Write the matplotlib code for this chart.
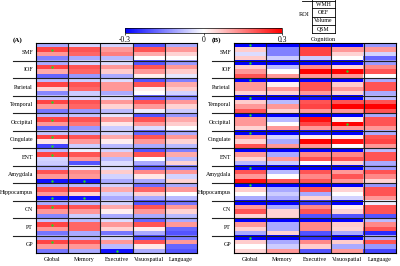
import numpy as np
import matplotlib
matplotlib.use('Agg')
import matplotlib.pyplot as plt
from matplotlib.transforms import blended_transform_factory

plt.rcParams['font.family'] = 'serif'
plt.rcParams['font.serif'] = ['Liberation Serif', 'DejaVu Serif']
plt.rcParams['axes.unicode_minus'] = False

rois = ['SMF', 'IOF', 'Parietal', 'Temporal', 'Occipital', 'Cingulate', 'ENT',
        'Amygdala', 'Hippocampus', 'CN', 'PT', 'GP']
cognition = ['Global', 'Memory', 'Executive', 'Visuospatial', 'Language']
measures = ['WMH', 'OEF', 'Volume', 'QSM']

# panel A, one row per ROI, columns = cognition
a_wmh = [[-0.10, -0.05, -0.05, -0.20, -0.10],
         [-0.10, -0.05, -0.04, -0.20, -0.12],
         [-0.08, -0.06, -0.04, -0.20, -0.15],
         [-0.07, -0.05, -0.04, -0.18, -0.14],
         [-0.08, -0.07, -0.03, -0.20, -0.12],
         [-0.07, -0.08, -0.05, -0.18, -0.10],
         [-0.08, -0.02, -0.05, -0.20, -0.15],
         [-0.09, -0.03, -0.04, -0.18, -0.15],
         [-0.10, -0.08, -0.05, -0.17, -0.10],
         [-0.10, -0.08, -0.05, -0.20, -0.16],
         [-0.07, -0.08, -0.04, -0.18, -0.10],
         [-0.10, -0.09, -0.05, -0.20, -0.15]]
a_oef = [[0.22, 0.20, 0.12, 0.20, 0.12],
         [0.22, 0.20, 0.12, 0.20, 0.12],
         [0.22, 0.20, 0.12, 0.20, 0.10],
         [0.22, 0.20, 0.12, 0.20, 0.12],
         [0.22, 0.20, 0.12, 0.20, 0.10],
         [0.22, 0.20, 0.10, 0.20, 0.12],
         [0.22, 0.20, 0.10, 0.20, 0.10],
         [0.20, 0.14, 0.06, 0.14, 0.12],
         [0.20, 0.20, 0.10, 0.18, 0.12],
         [0.22, 0.20, 0.10, 0.20, 0.12],
         [0.22, 0.18, 0.12, 0.20, 0.12],
         [0.22, 0.20, 0.12, 0.20, 0.12]]
a_vol = [[0.12, 0.18, 0.15, 0.10, 0.05],
         [0.10, 0.18, 0.06, 0.12, 0.06],
         [0.05, 0.18, 0.12, 0.02, 0.06],
         [0.12, 0.18, 0.05, 0.12, 0.05],
         [0.12, 0.16, 0.03, 0.12, 0.06],
         [0.03, 0.12, 0.02, 0.12, 0.05],
         [-0.05, 0.12, -0.08, 0.00, -0.08],
         [0.12, 0.12, -0.05, 0.03, -0.05],
         [0.12, 0.05, -0.05, 0.05, 0.00],
         [0.12, 0.12, 0.02, 0.12, 0.05],
         [0.12, 0.18, 0.05, 0.02, -0.18],
         [0.12, 0.12, -0.08, 0.03, -0.18]]
a_qsm = [[-0.15, -0.10, -0.08, 0.00, 0.00],
         [-0.18, -0.12, -0.10, 0.02, -0.03],
         [-0.14, -0.06, -0.10, 0.00, -0.05],
         [-0.16, -0.12, -0.08, -0.02, -0.06],
         [-0.18, -0.12, -0.06, -0.04, 0.00],
         [-0.22, -0.06, -0.08, -0.10, -0.08],
         [-0.06, -0.20, -0.04, -0.10, 0.05],
         [-0.28, -0.28, -0.10, -0.10, 0.05],
         [-0.28, -0.28, -0.10, -0.10, -0.08],
         [-0.14, -0.06, -0.10, -0.10, -0.08],
         [-0.16, -0.10, -0.16, -0.10, -0.20],
         [-0.16, -0.10, -0.28, -0.10, -0.20]]

# panel B
b_wmh = [[-0.30, -0.30, -0.30, -0.30, -0.12],
         [-0.30, -0.30, -0.30, -0.30, -0.12],
         [-0.30, -0.30, -0.30, -0.30, -0.10],
         [-0.30, -0.30, -0.28, -0.30, -0.08],
         [-0.30, -0.30, -0.30, -0.30, -0.10],
         [-0.30, -0.30, -0.28, -0.30, -0.10],
         [-0.30, -0.30, -0.30, -0.30, -0.08],
         [-0.30, -0.30, -0.30, -0.30, -0.12],
         [-0.30, -0.30, -0.30, -0.30, -0.12],
         [-0.30, -0.30, -0.24, -0.30, -0.02],
         [-0.30, -0.30, -0.30, -0.30, -0.08],
         [-0.30, -0.30, -0.24, -0.30, -0.10]]
b_oef = [[0.06, -0.15, 0.22, 0.12, 0.12],
         [0.06, -0.08, 0.14, 0.05, 0.14],
         [0.12, 0.02, 0.20, 0.06, 0.20],
         [0.06, -0.08, 0.20, 0.20, 0.20],
         [0.12, -0.08, 0.28, 0.02, 0.20],
         [0.12, -0.05, 0.02, 0.02, 0.20],
         [0.12, -0.10, 0.14, 0.14, 0.20],
         [0.20, -0.08, 0.20, 0.12, 0.20],
         [0.06, -0.10, 0.20, 0.05, 0.20],
         [0.12, -0.10, 0.14, 0.02, 0.20],
         [0.12, -0.10, 0.14, 0.06, 0.14],
         [0.06, -0.10, 0.14, 0.06, 0.20]]
b_vol = [[-0.04, -0.15, 0.22, 0.05, -0.05],
         [0.12, 0.00, 0.30, 0.30, 0.20],
         [0.12, 0.12, 0.20, 0.12, 0.20],
         [0.12, 0.12, 0.22, 0.30, 0.30],
         [0.12, 0.00, 0.22, 0.30, 0.20],
         [0.05, -0.10, 0.30, 0.28, 0.22],
         [0.05, 0.12, 0.20, 0.20, 0.20],
         [0.12, 0.00, 0.14, 0.20, 0.14],
         [0.00, -0.06, -0.10, 0.00, 0.20],
         [0.20, 0.05, 0.20, 0.05, 0.20],
         [0.05, -0.10, 0.14, 0.05, 0.20],
         [0.00, -0.06, 0.06, -0.10, -0.12]]
b_qsm = [[0.06, -0.06, -0.06, 0.00, -0.18],
         [0.20, 0.12, 0.12, 0.12, 0.00],
         [0.05, 0.05, 0.12, 0.05, -0.10],
         [0.20, 0.05, 0.12, 0.12, 0.20],
         [0.05, 0.12, 0.12, 0.12, 0.12],
         [0.20, 0.12, 0.12, 0.00, 0.12],
         [-0.08, -0.06, 0.00, 0.05, -0.10],
         [0.28, 0.20, 0.20, 0.12, 0.05],
         [-0.10, -0.10, 0.05, -0.05, 0.12],
         [0.05, 0.05, -0.20, -0.20, -0.20],
         [-0.10, 0.05, -0.20, -0.10, -0.25],
         [0.05, 0.12, -0.20, 0.12, -0.22]]

# significant cells: (roi index, measure index, cognition index)
a_sig = [(0, 1, 0), (1, 1, 0), (3, 1, 0), (4, 1, 0), (5, 1, 0), (6, 1, 0),
         (9, 1, 0), (10, 1, 0), (11, 1, 0), (5, 3, 0), (7, 3, 0), (8, 3, 0),
         (7, 3, 1), (8, 3, 1), (11, 3, 2)]
b_sig = [(0, 0, 0), (1, 0, 0), (2, 0, 0), (3, 0, 0), (4, 0, 0), (5, 0, 0),
         (7, 0, 0), (8, 0, 0), (11, 0, 0), (1, 2, 3), (4, 2, 3)]


def build(wmh, oef, vol, qsm):
    arr = np.stack([wmh, oef, vol, qsm], axis=1)  # roi, measure, cog
    return arr.reshape(-1, len(cognition))


W, H = 400, 266
fig = plt.figure(figsize=(W / 100, H / 100), dpi=100)

def draw_panel(rect, data, sig, label, ext):
    ax = fig.add_axes(rect)
    im = ax.imshow(data, cmap='bwr', vmin=-0.3, vmax=0.3, aspect='auto',
                   interpolation='nearest')
    nr = len(measures)
    for k in range(1, len(rois)):
        y = k * nr - 0.5
        tr = blended_transform_factory(ax.transAxes, ax.transData)
        ax.plot([ext, 1], [y, y], color='#222222', lw=0.8, transform=tr,
                clip_on=False)
    for c in range(1, len(cognition)):
        ax.axvline(c - 0.5, color='#222222', lw=0.8)
    for r, m, c in sig:
        ax.scatter(c, r * nr + m, s=3, color='#22dd22', zorder=5, lw=0)
    ax.set_yticks([k * nr + 1.5 for k in range(len(rois))])
    ax.set_yticklabels(rois, fontsize=4.3)
    ax.set_xticks(range(len(cognition)))
    ax.set_xticklabels(cognition, fontsize=4.3)
    ax.tick_params(length=0, pad=2.2)
    ax.tick_params(axis='x', pad=3)
    for s in ax.spines.values():
        s.set_linewidth(0.8)
    ax.set_ylim(len(rois) * nr - 0.5, -0.5)
    fig.text(rect[0] + ext * rect[2], 1 - 40 / H, label, fontsize=5,
             fontweight='bold', va='center', ha='left')
    return im

im = draw_panel([36 / W, 13 / H, 161 / W, 210 / H],
                build(a_wmh, a_oef, a_vol, a_qsm), a_sig, '(A)', -0.143)
draw_panel([234 / W, 13 / H, 162 / W, 210 / H],
           build(b_wmh, b_oef, b_vol, b_qsm), b_sig, '(B)', -0.136)

cax = fig.add_axes([125 / W, 233 / H, 157 / W, 5 / H])
cb = fig.colorbar(im, cax=cax, orientation='horizontal', ticks=[-0.3, 0, 0.3])
cb.ax.set_xticklabels(['-0.3', '0', '0.3'])
cb.ax.tick_params(labelsize=5.5, length=1.5, width=0.5, pad=0.5)
cb.outline.set_linewidth(0.5)

# ROI / cognition key in pixel coordinates
key = fig.add_axes([0, 0, 1, 1])
key.set_xlim(0, W)
key.set_ylim(H, 0)
key.axis('off')
bx0, bx1 = 312, 335
lines_y = [0.5, 8.3, 16.5, 25, 33]
key.plot([302, bx0], [0.5, 0.5], color='black', lw=0.6)
key.plot([bx0, bx0], [0, 33], color='black', lw=0.6)
key.plot([bx1, bx1], [0, 33], color='black', lw=0.6)
for y in lines_y:
    key.plot([bx0, bx1], [y, y], color='black', lw=0.6)
for i, m in enumerate(measures):
    key.text((bx0 + bx1) / 2, (lines_y[i] + lines_y[i + 1]) / 2, m,
             fontsize=4.2, ha='center', va='center')
key.text(304, 15, 'ROI', fontsize=4.5, ha='center', va='center')
key.text((bx0 + bx1) / 2, 39, 'Cognition', fontsize=4.5, ha='center',
         va='center')

fig.savefig('out.png', dpi=100)
